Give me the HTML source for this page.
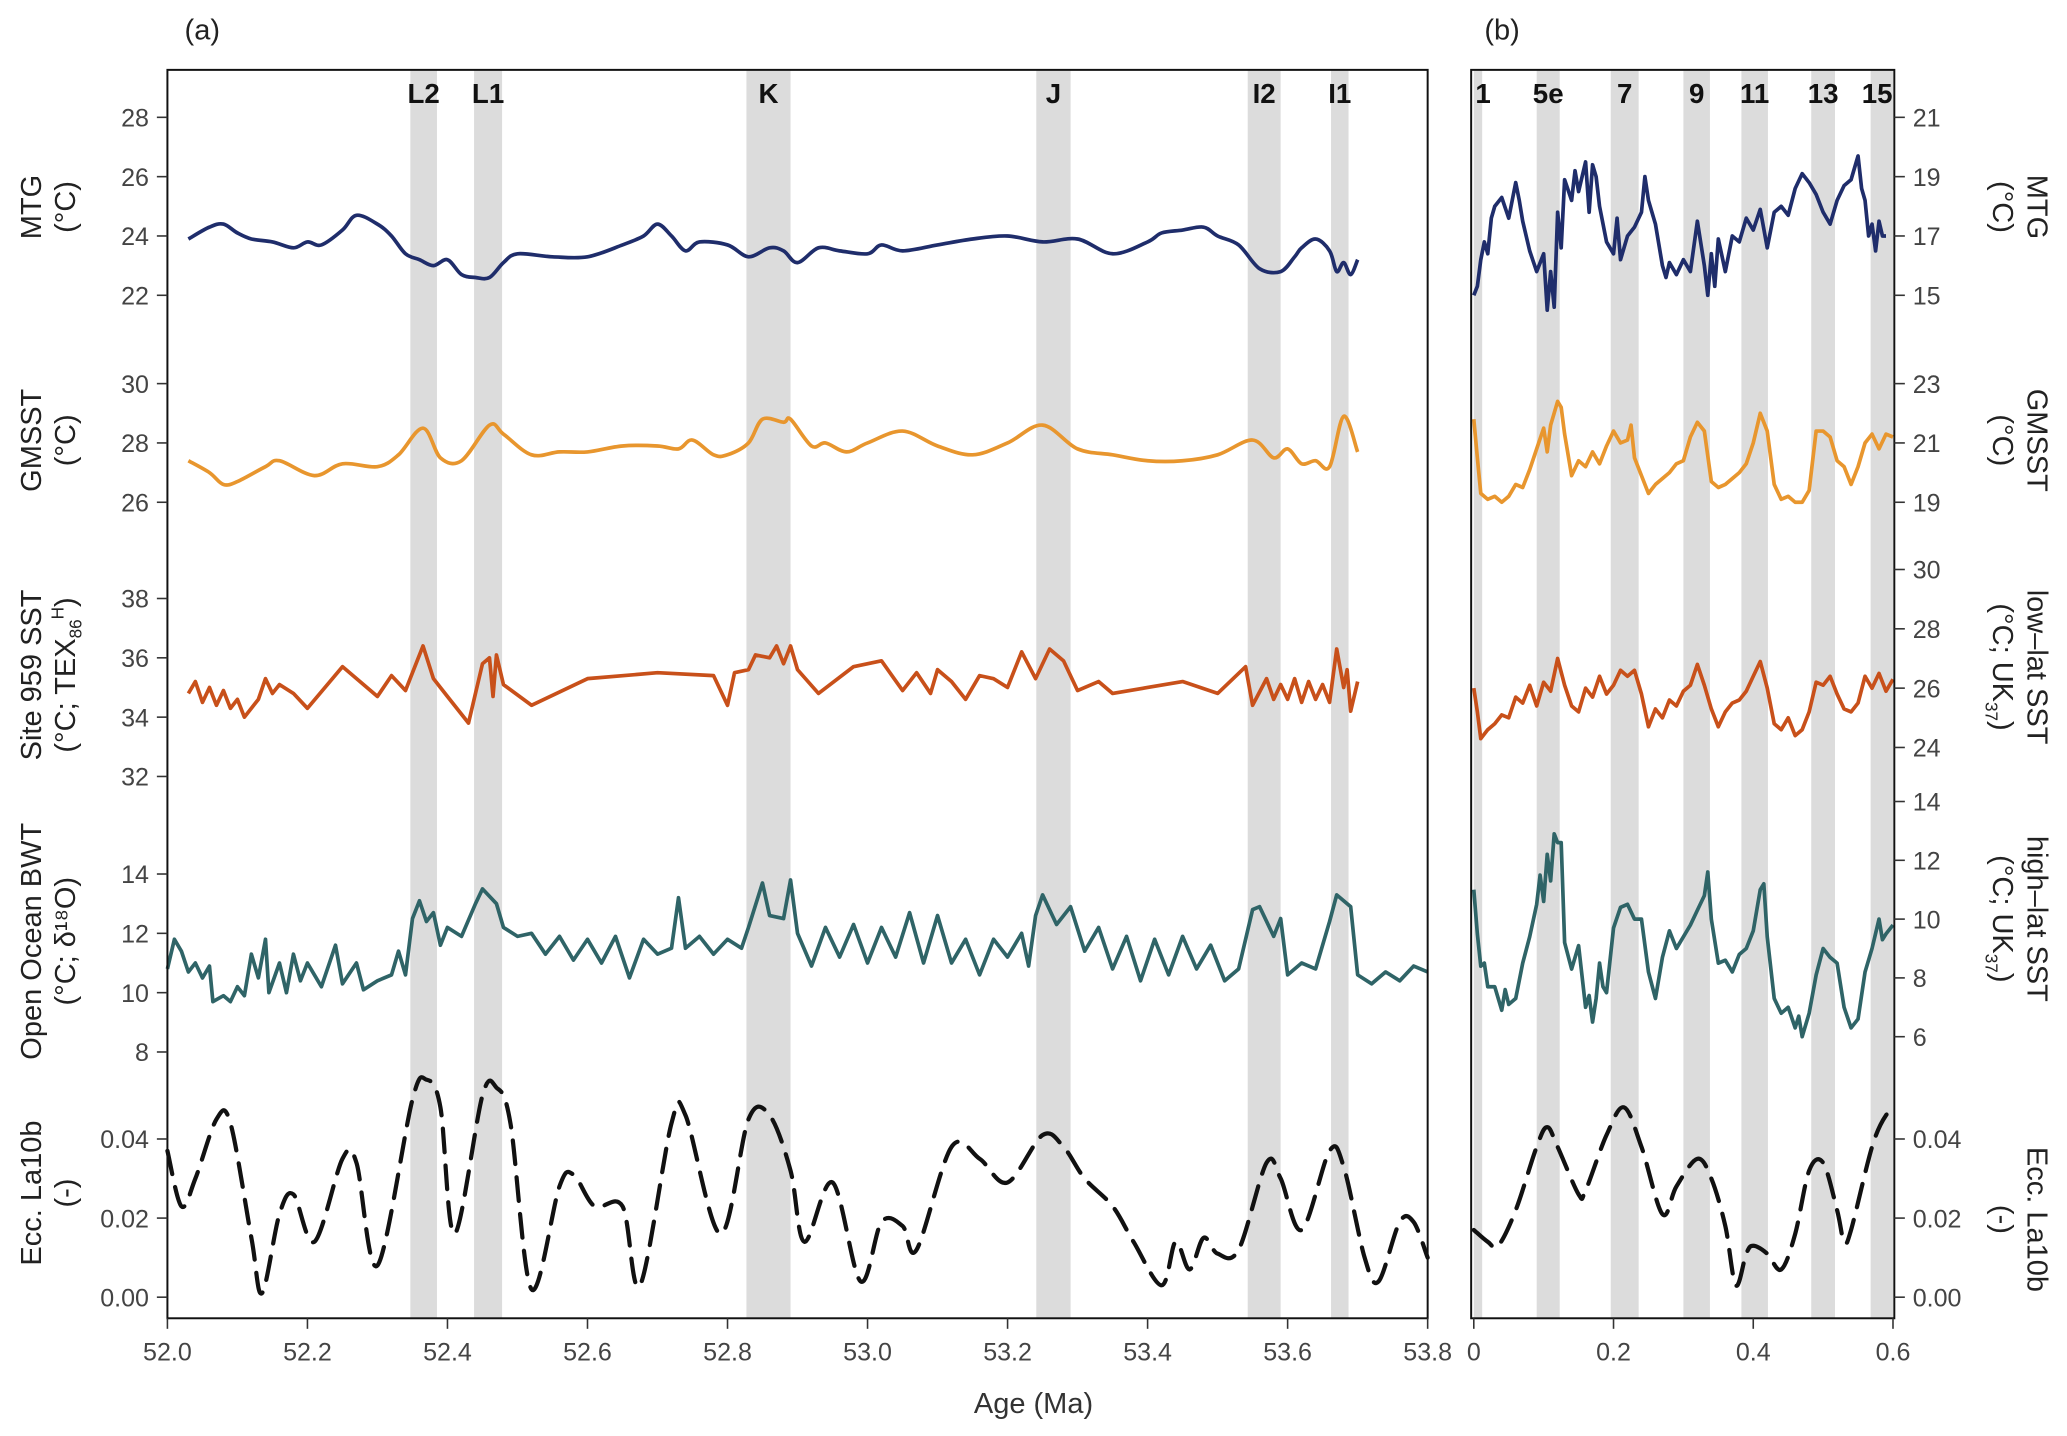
<!DOCTYPE html>
<html><head><meta charset="utf-8"><style>
html,body{margin:0;padding:0;background:#fff;}
svg{display:block;font-family:"Liberation Sans",sans-serif;}
</style></head><body>
<svg id="chart" width="2067" height="1436" viewBox="0 0 1568 1089.3" preserveAspectRatio="none" xmlns="http://www.w3.org/2000/svg"></svg>
<script>
// ---------- Panel (a) data ----------
const bandsA=[["L2",52.347,52.385],["L1",52.438,52.478],["K",52.827,52.89],["J",53.241,53.29],["I2",53.543,53.59],["I1",53.662,53.687]];
const mtgAAge=[52.03,52.06,52.08,52.10,52.12,52.15,52.18,52.20,52.22,52.25,52.27,52.30,52.32,52.34,52.36,52.38,52.40,52.42,52.44,52.46,52.48,52.50,52.55,52.60,52.65,52.68,52.70,52.72,52.74,52.76,52.80,52.83,52.86,52.88,52.90,52.93,52.96,53.0,53.02,53.05,53.10,53.15,53.20,53.25,53.30,53.35,53.40,53.42,53.45,53.48,53.50,53.53,53.56,53.59,53.61,53.62,53.64,53.66,53.67,53.68,53.69,53.70];
const mtgAVal=[23.9,24.3,24.4,24.1,23.9,23.8,23.6,23.8,23.7,24.2,24.7,24.4,24.0,23.4,23.2,23.0,23.2,22.7,22.6,22.6,23.1,23.4,23.3,23.3,23.7,24.0,24.4,24.0,23.5,23.8,23.7,23.3,23.6,23.5,23.1,23.6,23.5,23.4,23.7,23.5,23.7,23.9,24.0,23.8,23.9,23.4,23.8,24.1,24.2,24.3,24.0,23.7,22.9,22.8,23.3,23.6,23.9,23.5,22.8,23.1,22.7,23.2];
const gmAAge=[52.03,52.06,52.08,52.10,52.14,52.16,52.21,52.25,52.30,52.33,52.365,52.39,52.42,52.46,52.48,52.52,52.56,52.60,52.65,52.70,52.73,52.75,52.78,52.80,52.83,52.85,52.88,52.89,52.92,52.94,52.97,53.0,53.05,53.10,53.15,53.20,53.25,53.30,53.35,53.40,53.45,53.50,53.55,53.58,53.60,53.62,53.64,53.66,53.68,53.70];
const gmAVal=[27.4,27.0,26.6,26.7,27.2,27.4,26.9,27.3,27.2,27.6,28.5,27.5,27.4,28.6,28.3,27.6,27.7,27.7,27.9,27.9,27.8,28.1,27.6,27.6,28.0,28.8,28.7,28.8,27.9,28.0,27.7,28.0,28.4,27.9,27.6,28.0,28.6,27.8,27.6,27.4,27.4,27.6,28.1,27.5,27.8,27.3,27.4,27.2,28.9,27.7];
const s959Age=[52.03,52.04,52.05,52.06,52.07,52.08,52.09,52.10,52.11,52.13,52.14,52.15,52.16,52.18,52.20,52.25,52.30,52.32,52.34,52.35,52.365,52.38,52.40,52.43,52.45,52.46,52.465,52.47,52.48,52.52,52.60,52.70,52.78,52.80,52.81,52.83,52.84,52.86,52.87,52.88,52.89,52.90,52.93,52.98,53.02,53.05,53.07,53.09,53.10,53.12,53.14,53.16,53.18,53.20,53.22,53.24,53.26,53.28,53.30,53.33,53.35,53.40,53.45,53.50,53.54,53.55,53.57,53.58,53.59,53.60,53.61,53.62,53.63,53.64,53.65,53.66,53.67,53.68,53.685,53.69,53.70];
const s959Val=[34.8,35.2,34.5,35.0,34.4,34.9,34.3,34.6,34.0,34.6,35.3,34.8,35.1,34.8,34.3,35.7,34.7,35.4,34.9,35.5,36.4,35.3,34.7,33.8,35.8,36.0,34.7,36.1,35.1,34.4,35.3,35.5,35.4,34.4,35.5,35.6,36.1,36.0,36.4,35.8,36.4,35.6,34.8,35.7,35.9,34.9,35.5,34.8,35.6,35.2,34.6,35.4,35.3,35.0,36.2,35.3,36.3,35.9,34.9,35.2,34.8,35.0,35.2,34.8,35.7,34.4,35.3,34.6,35.1,34.6,35.3,34.5,35.2,34.6,35.1,34.5,36.3,35.0,35.6,34.2,35.2];
const bwtAge=[52.0,52.01,52.02,52.03,52.04,52.05,52.06,52.065,52.08,52.09,52.10,52.11,52.12,52.13,52.14,52.145,52.16,52.17,52.18,52.19,52.20,52.22,52.24,52.25,52.27,52.28,52.30,52.32,52.33,52.34,52.35,52.36,52.37,52.38,52.39,52.40,52.42,52.44,52.45,52.47,52.48,52.50,52.52,52.54,52.56,52.58,52.60,52.62,52.64,52.66,52.68,52.70,52.72,52.73,52.74,52.76,52.78,52.80,52.82,52.83,52.85,52.86,52.88,52.89,52.90,52.92,52.94,52.96,52.98,53.00,53.02,53.04,53.06,53.08,53.10,53.12,53.14,53.16,53.18,53.20,53.22,53.23,53.24,53.25,53.27,53.29,53.31,53.33,53.35,53.37,53.39,53.41,53.43,53.45,53.47,53.49,53.51,53.53,53.55,53.56,53.58,53.59,53.60,53.62,53.64,53.66,53.67,53.69,53.70,53.72,53.74,53.76,53.78,53.80];
const bwtVal=[10.8,11.8,11.4,10.7,11.0,10.5,10.9,9.7,9.9,9.7,10.2,9.9,11.3,10.5,11.8,10.0,11.0,10.0,11.3,10.4,11.0,10.2,11.6,10.3,11.0,10.1,10.4,10.6,11.4,10.6,12.5,13.1,12.4,12.7,11.6,12.2,11.9,13.0,13.5,13.0,12.2,11.9,12.0,11.3,11.9,11.1,11.8,11.0,11.9,10.5,11.8,11.3,11.5,13.2,11.5,11.9,11.3,11.8,11.5,12.2,13.7,12.6,12.5,13.8,12.0,10.9,12.2,11.2,12.3,11.0,12.2,11.2,12.7,11.0,12.6,11.0,11.8,10.6,11.8,11.2,12.0,10.9,12.6,13.3,12.3,12.9,11.4,12.2,10.8,11.9,10.4,11.8,10.6,11.9,10.8,11.6,10.4,10.8,12.8,12.9,11.9,12.5,10.6,11.0,10.8,12.4,13.3,12.9,10.6,10.3,10.7,10.4,10.9,10.7];
const eccAAge=[52.00,52.02,52.04,52.07,52.09,52.12,52.135,52.16,52.18,52.21,52.25,52.27,52.30,52.35,52.37,52.39,52.41,52.45,52.47,52.49,52.52,52.56,52.58,52.61,52.65,52.675,52.72,52.74,52.79,52.83,52.86,52.89,52.91,52.95,52.99,53.02,53.05,53.07,53.12,53.16,53.20,53.25,53.28,53.31,53.35,53.38,53.42,53.44,53.46,53.48,53.50,53.53,53.57,53.59,53.62,53.66,53.68,53.71,53.73,53.76,53.78,53.80];
const eccAVal=[0.037,0.023,0.030,0.045,0.044,0.015,0.001,0.021,0.026,0.014,0.035,0.034,0.008,0.050,0.055,0.048,0.016,0.051,0.053,0.044,0.002,0.028,0.031,0.023,0.023,0.003,0.044,0.046,0.016,0.045,0.046,0.032,0.014,0.029,0.004,0.019,0.018,0.012,0.038,0.035,0.029,0.041,0.038,0.030,0.023,0.014,0.003,0.014,0.007,0.015,0.011,0.012,0.034,0.030,0.017,0.037,0.033,0.010,0.004,0.019,0.019,0.010];
// ---------- Panel (b) data ----------
const bandsB=[["1",0,0.012],["5e",0.09,0.123],["7",0.196,0.236],["9",0.30,0.338],["11",0.383,0.421],["13",0.483,0.517],["15",0.568,0.60]];
const mtgBAge=[0.0,0.005,0.01,0.015,0.02,0.025,0.03,0.04,0.05,0.06,0.065,0.07,0.08,0.09,0.10,0.105,0.11,0.115,0.12,0.125,0.13,0.14,0.145,0.15,0.16,0.165,0.17,0.175,0.18,0.19,0.20,0.205,0.21,0.22,0.23,0.24,0.245,0.25,0.26,0.27,0.275,0.28,0.29,0.30,0.31,0.32,0.33,0.335,0.34,0.345,0.35,0.36,0.37,0.38,0.39,0.40,0.41,0.42,0.43,0.44,0.45,0.46,0.47,0.48,0.49,0.50,0.51,0.52,0.53,0.54,0.55,0.555,0.56,0.565,0.57,0.575,0.58,0.585,0.59];
const mtgBVal=[15.0,15.3,16.2,16.8,16.4,17.6,18.0,18.3,17.6,18.8,18.2,17.5,16.5,15.8,16.4,14.5,15.8,14.6,17.8,16.6,18.9,18.2,19.2,18.5,19.5,17.8,19.4,19.0,18.0,16.8,16.4,17.6,16.2,17.0,17.3,17.8,19.0,18.2,17.4,16.0,15.6,16.1,15.7,16.2,15.8,17.5,16.0,15.0,16.4,15.3,16.9,15.8,17.0,16.8,17.6,17.2,17.9,16.6,17.8,18.0,17.7,18.6,19.1,18.8,18.4,17.8,17.4,18.2,18.7,18.9,19.7,18.6,18.2,17.0,17.4,16.5,17.5,17.0,17.0];
const gmBAge=[0.0,0.005,0.01,0.02,0.03,0.04,0.05,0.06,0.07,0.08,0.09,0.10,0.105,0.11,0.12,0.125,0.13,0.14,0.15,0.16,0.17,0.18,0.19,0.20,0.21,0.22,0.225,0.23,0.24,0.25,0.26,0.27,0.28,0.29,0.30,0.31,0.32,0.33,0.34,0.35,0.36,0.37,0.38,0.39,0.40,0.41,0.42,0.43,0.44,0.45,0.46,0.47,0.48,0.49,0.50,0.51,0.52,0.53,0.54,0.55,0.56,0.57,0.58,0.59,0.60];
const gmBVal=[21.8,20.5,19.3,19.1,19.2,19.0,19.2,19.6,19.5,20.1,20.8,21.5,20.7,21.6,22.4,22.2,21.3,19.9,20.4,20.2,20.7,20.3,20.9,21.4,21.0,21.1,21.6,20.5,19.9,19.3,19.6,19.8,20.0,20.3,20.4,21.2,21.7,21.4,19.7,19.5,19.6,19.8,20.0,20.3,21.0,22.0,21.4,19.6,19.1,19.2,19.0,19.0,19.4,21.4,21.4,21.2,20.4,20.2,19.6,20.2,21.0,21.3,20.8,21.3,21.2];
const lowAge=[0.0,0.005,0.01,0.02,0.03,0.04,0.05,0.06,0.07,0.08,0.09,0.10,0.11,0.12,0.13,0.14,0.15,0.16,0.17,0.18,0.19,0.20,0.21,0.22,0.23,0.24,0.25,0.26,0.27,0.28,0.29,0.30,0.31,0.32,0.33,0.34,0.35,0.36,0.37,0.38,0.39,0.40,0.41,0.42,0.43,0.44,0.45,0.46,0.47,0.48,0.49,0.50,0.51,0.52,0.53,0.54,0.55,0.56,0.57,0.58,0.59,0.60];
const lowVal=[26.0,25.2,24.3,24.6,24.8,25.1,25.0,25.7,25.5,26.1,25.4,26.2,25.9,27.0,26.1,25.4,25.2,26.0,25.7,26.4,25.8,26.1,26.6,26.4,26.6,25.8,24.7,25.3,25.0,25.6,25.4,25.9,26.1,26.8,26.1,25.3,24.7,25.2,25.5,25.6,25.9,26.4,26.9,26.0,24.8,24.6,25.0,24.4,24.6,25.2,26.2,26.1,26.4,25.8,25.3,25.2,25.5,26.4,26.0,26.5,25.9,26.3];
const highAge=[0.0,0.005,0.01,0.015,0.02,0.03,0.04,0.045,0.05,0.06,0.07,0.08,0.09,0.095,0.10,0.105,0.11,0.115,0.12,0.125,0.13,0.14,0.15,0.16,0.165,0.17,0.175,0.18,0.185,0.19,0.20,0.21,0.22,0.23,0.24,0.25,0.26,0.27,0.28,0.29,0.30,0.31,0.32,0.33,0.335,0.34,0.35,0.36,0.37,0.38,0.39,0.40,0.41,0.415,0.42,0.43,0.44,0.45,0.46,0.465,0.47,0.48,0.49,0.50,0.51,0.52,0.53,0.54,0.55,0.56,0.57,0.58,0.585,0.59,0.60];
const highVal=[11.0,9.5,8.4,8.5,7.7,7.7,6.9,7.6,7.1,7.3,8.5,9.4,10.5,11.5,10.6,12.2,11.3,12.9,12.6,12.6,9.2,8.3,9.1,7.0,7.4,6.5,7.3,8.5,7.7,7.5,9.7,10.4,10.5,10.0,10.0,8.2,7.3,8.7,9.6,9.0,9.4,9.8,10.3,10.8,11.6,10.0,8.5,8.6,8.2,8.8,9.0,9.6,11.0,11.2,9.4,7.3,6.8,7.0,6.3,6.7,6.0,6.8,8.1,9.0,8.7,8.5,7.0,6.3,6.6,8.2,9.0,10.0,9.3,9.5,9.8];
const eccBAge=[0.0,0.02,0.035,0.06,0.09,0.105,0.12,0.15,0.16,0.19,0.215,0.24,0.27,0.29,0.32,0.34,0.36,0.375,0.39,0.40,0.42,0.44,0.46,0.48,0.50,0.52,0.53,0.54,0.57,0.59,0.60];
const eccBVal=[0.017,0.014,0.013,0.022,0.038,0.043,0.038,0.026,0.027,0.041,0.048,0.038,0.021,0.028,0.035,0.030,0.018,0.003,0.011,0.013,0.011,0.007,0.016,0.032,0.034,0.022,0.014,0.017,0.038,0.046,0.046];
// tick labels
const ticksXA=["52.0","52.2","52.4","52.6","52.8","53.0","53.2","53.4","53.6","53.8"];
const ticksXB=["0","0.2","0.4","0.6"];

const NS="http://www.w3.org/2000/svg";
const svg=document.getElementById('chart');
function el(tag,attrs,parent,text){const e=document.createElementNS(NS,tag);for(const k in attrs)e.setAttribute(k,attrs[k]);if(text!==undefined)e.textContent=text;(parent||svg).appendChild(e);return e;}
const TOP=53,BOT=1000;
const xA=v=>127+(v-52)/1.8*956;
const xB=v=>1118+v/0.6*318;
const lin=(v0,p0,k)=>v=>p0-(v-v0)*k;
const yMTG=lin(28,89,22.5), yGM=lin(30,291,22.5), y959=lin(38,454,22.5), yBWT=lin(14,663,22.5), yECC=lin(0,984,3000);
const yMTGb=lin(21,89,22.5), yGMb=lin(23,291,22.5), yLOW=lin(30,432,22.5), yHIGH=lin(14,608,22.3);

bandsA.forEach(b=>{
 const r=el('rect',{x:xA(b[1]),y:TOP,width:xA(b[2])-xA(b[1]),height:BOT-TOP,fill:'#dcdcdc'});
 
 
 const t=el('text',{x:(xA(b[1])+xA(b[2]))/2,y:78,'text-anchor':'middle','font-size':21,'font-weight':'bold',fill:'#111'},null,b[0]);
 
 
});
bandsB.forEach(b=>{
 const r=el('rect',{x:xB(b[1]),y:TOP,width:xB(b[2])-xB(b[1]),height:BOT-TOP,fill:'#dcdcdc'});
 
 
 const cx=b[0]==="1"?1125:(b[0]==="15"?1424:(xB(b[1])+xB(b[2]))/2);
 const t=el('text',{x:cx,y:78,'text-anchor':'middle','font-size':21,'font-weight':'bold',fill:'#111'},null,b[0]);
 
 
});

function line(ages,vals,xf,yf,color,name,dash,smooth){
 const P=ages.map((a,i)=>[xf(a),yf(vals[i])]);
 let d='M'+P[0][0].toFixed(1)+','+P[0][1].toFixed(1);
 for(let i=1;i<P.length;i++){
  if(smooth){
   const p0=P[Math.max(0,i-2)],p1=P[i-1],p2=P[i],p3=P[Math.min(P.length-1,i+1)];
   const c1=[p1[0]+(p2[0]-p0[0])/6,p1[1]+(p2[1]-p0[1])/6],c2=[p2[0]-(p3[0]-p1[0])/6,p2[1]-(p3[1]-p1[1])/6];
   d+='C'+c1[0].toFixed(1)+','+c1[1].toFixed(1)+' '+c2[0].toFixed(1)+','+c2[1].toFixed(1)+' '+p2[0].toFixed(1)+','+p2[1].toFixed(1);
  } else d+='L'+P[i][0].toFixed(1)+','+P[i][1].toFixed(1);
 }
 const p=el('path',{d:d,fill:'none',stroke:color,'stroke-width':dash?3.2:2.8,'stroke-linejoin':'round','stroke-linecap':dash?'round':'butt'});
 if(dash)p.setAttribute('stroke-dasharray','18 10');
 
 
}
line(mtgAAge,mtgAVal,xA,yMTG,'#1f2d6b','mtg-line-a',false,true);
line(gmAAge,gmAVal,xA,yGM,'#e8962e','gmsst-line-a',false,true);
line(s959Age,s959Val,xA,y959,'#c8501a','site959-line');
line(bwtAge,bwtVal,xA,yBWT,'#2f6467','bwt-line');
line(eccAAge,eccAVal,xA,yECC,'#111','ecc-line-a',true,true);
line(mtgBAge,mtgBVal,xB,yMTGb,'#1f2d6b','mtg-line-b');
line(gmBAge,gmBVal,xB,yGMb,'#e8962e','gmsst-line-b');
line(lowAge,lowVal,xB,yLOW,'#c8501a','low-lat-sst-line');
line(highAge,highVal,xB,yHIGH,'#2f6467','high-lat-sst-line');
line(eccBAge,eccBVal,xB,yECC,'#111','ecc-line-b',true,true);

const fa=el('rect',{x:127,y:TOP,width:956,height:BOT-TOP,fill:'none',stroke:'#111','stroke-width':1.5});

const fb=el('rect',{x:1116,y:TOP,width:321,height:BOT-TOP,fill:'none',stroke:'#111','stroke-width':1.5});


function yticks(vals,yf,side,name){
 vals.forEach(v=>{
  const y=yf(parseFloat(v));
  if(side==='L'){el('line',{x1:119,x2:127,y1:y,y2:y,stroke:'#333','stroke-width':1.2});
   const t=el('text',{x:113,y:y+7,'text-anchor':'end','font-size':19,fill:'#444'},null,v);
   }
  else{el('line',{x1:1437,x2:1445,y1:y,y2:y,stroke:'#333','stroke-width':1.2});
   const t=el('text',{x:1451,y:y+7,'text-anchor':'start','font-size':19,fill:'#444'},null,v);
   }
 });
}
yticks(["28","26","24","22"],yMTG,'L','mtg-a-axis');
yticks(["30","28","26"],yGM,'L','gmsst-a-axis');
yticks(["38","36","34","32"],y959,'L','site959-axis');
yticks(["14","12","10","8"],yBWT,'L','bwt-axis');
yticks(["0.04","0.02","0.00"],yECC,'L','ecc-a-axis');
yticks(["21","19","17","15"],yMTGb,'R','mtg-b-axis');
yticks(["23","21","19"],yGMb,'R','gmsst-b-axis');
yticks(["30","28","26","24"],yLOW,'R','low-lat-axis');
yticks(["14","12","10","8","6"],yHIGH,'R','high-lat-axis');
yticks(["0.04","0.02","0.00"],yECC,'R','ecc-b-axis');

ticksXA.forEach(s=>{const x=xA(parseFloat(s));el('line',{x1:x,x2:x,y1:BOT,y2:BOT+8,stroke:'#333','stroke-width':1.2});
 const t=el('text',{x:x,y:1032,'text-anchor':'middle','font-size':19,fill:'#444'},null,s);
 });
ticksXB.forEach(s=>{const x=xB(parseFloat(s));el('line',{x1:x,x2:x,y1:BOT,y2:BOT+8,stroke:'#333','stroke-width':1.2});
 const t=el('text',{x:x,y:1032,'text-anchor':'middle','font-size':19,fill:'#444'},null,s);
 });
</script>
<div style="position:absolute;left:0;top:0;width:2067px;height:1436px;pointer-events:none;">
<svg width="2067" height="1436" viewBox="0 0 1568 1089.3" preserveAspectRatio="none" style="font-family:'Liberation Sans',sans-serif;">
 <text x="140" y="30" font-size="22" fill="#222">(a)</text>
 <text x="1126" y="30" font-size="22" fill="#222">(b)</text>
 <text x="784" y="1072" font-size="22" text-anchor="middle" fill="#333">Age (Ma)</text>
 <g font-size="22" fill="#222" text-anchor="middle">
  <text transform="translate(31,157) rotate(-90)">MTG</text>
  <text transform="translate(57,157) rotate(-90)">(°C)</text>
  <text transform="translate(31,334) rotate(-90)">GMSST</text>
  <text transform="translate(57,334) rotate(-90)">(°C)</text>
  <text transform="translate(31,512) rotate(-90)">Site 959 SST</text>
  <text transform="translate(57,512) rotate(-90)">(°C; TEX<tspan font-size="13" dy="5">86</tspan><tspan font-size="13" dy="-14">H</tspan><tspan dy="9">)</tspan></text>
  <text transform="translate(31,714) rotate(-90)">Open Ocean BWT</text>
  <text transform="translate(57,714) rotate(-90)">(°C; δ¹⁸O)</text>
  <text transform="translate(31,905) rotate(-90)">Ecc. La10b</text>
  <text transform="translate(57,905) rotate(-90)">(-)</text>
  <text transform="translate(1538,157) rotate(90)">MTG</text>
  <text transform="translate(1512,157) rotate(90)">(°C)</text>
  <text transform="translate(1538,334) rotate(90)">GMSST</text>
  <text transform="translate(1512,334) rotate(90)">(°C)</text>
  <text transform="translate(1538,506) rotate(90)">low–lat SST</text>
  <text transform="translate(1512,506) rotate(90)">(°C; UK<tspan font-size="13" dy="6">37</tspan><tspan dy="-6">)</tspan></text>
  <text transform="translate(1538,697) rotate(90)">high–lat SST</text>
  <text transform="translate(1512,697) rotate(90)">(°C; UK<tspan font-size="13" dy="6">37</tspan><tspan dy="-6">)</tspan></text>
  <text transform="translate(1538,925) rotate(90)">Ecc. La10b</text>
  <text transform="translate(1512,925) rotate(90)">(-)</text>
 </g>
</svg>
</div>
</body></html>
